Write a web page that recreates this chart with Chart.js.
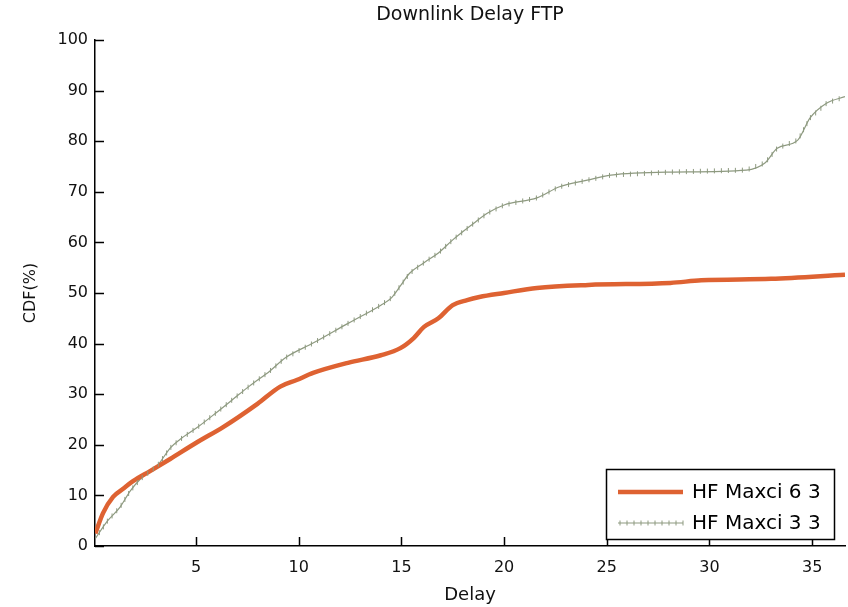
<!DOCTYPE html>
<html>
<head>
<meta charset="utf-8">
<script src="https://cdn.jsdelivr.net/npm/chart.js@4.4.1/dist/chart.umd.min.js"></script>
<style>
  html, body { margin: 0; padding: 0; background: #fff; }
  #wrap { width: 848px; height: 607px; }
</style>
</head>
<body>
<div id="wrap"><canvas id="chart" width="848" height="607"></canvas></div>
<script>
const titleText = 'Downlink Delay FTP';
const xLabel = 'Delay';
const yLabel = 'CDF(%)';
const seriesNames = ['HF Maxci 6 3', 'HF Maxci 3 3'];

// HF Maxci 6 3 (orange, thick)
const delay63 = [0.1, 0.47, 0.96, 1.45, 1.93, 2.76, 3.74, 5.05, 6.32, 7.99, 9.1, 9.9, 10.7, 12.4, 14.0, 14.95, 15.6, 16.1, 16.8, 17.5, 18.2, 18.8, 20.0, 21.6, 24.1, 28.1, 29.6, 33.0, 36.6];
const cdf63 =   [2.5, 6.5, 9.7, 11.3, 12.8, 14.8, 17.2, 20.5, 23.5, 28.1, 31.5, 32.8, 34.2, 36.2, 37.7, 39.1, 41.1, 43.3, 45.0, 47.6, 48.6, 49.2, 50.0, 51.0, 51.6, 52.0, 52.5, 52.8, 53.6];

// HF Maxci 3 3 (grey-green, thin with markers)
const delay33 = [0.1, 0.68, 1.3, 1.8, 2.28, 3.1, 3.75, 4.2, 5.05, 6.0, 6.8, 7.6, 8.6, 9.35, 10.7, 12.4, 14.0, 14.5, 14.95, 15.4, 16.1, 16.8, 17.5, 18.4, 19.2, 20.0, 21.6, 22.7, 24.05, 25.2, 28.1, 31.8, 32.7, 33.3, 34.3, 34.9, 35.7, 36.6];
const cdf33 =   [1.5, 4.9, 7.7, 10.9, 13.2, 15.8, 19.4, 21.0, 23.4, 26.4, 29.0, 31.6, 34.6, 37.2, 40.1, 44.0, 47.6, 49.0, 51.4, 53.9, 56.0, 57.9, 60.5, 63.4, 65.8, 67.4, 68.8, 71.0, 72.3, 73.3, 73.9, 74.3, 75.7, 78.6, 80.2, 84.6, 87.5, 88.8];

const xTicks = [5, 10, 15, 20, 25, 30, 35];
const yTicks = [0, 10, 20, 30, 40, 50, 60, 70, 80, 90, 100];

const orange = '#de6232';
const olive = '#8e9a80';
const fontFamily = '"DejaVu Sans", Verdana, sans-serif';

function toPoints(xs, ys) {
    return xs.map((x, i) => ({ x: x, y: ys[i] }));
}

// ticks drawn on the inside of the axes, like matlab
const inwardTicks = {
    id: 'inwardTicks',
    afterDraw(chart) {
        const ctx = chart.ctx;
        const xs = chart.scales.x;
        const ys = chart.scales.y;
        const area = chart.chartArea;
        ctx.save();
        ctx.strokeStyle = '#000';
        ctx.lineWidth = 1.5;
        ctx.beginPath();
        xs.ticks.forEach(t => {
            const px = Math.round(xs.getPixelForValue(t.value)) + 0.5;
            ctx.moveTo(px, area.bottom);
            ctx.lineTo(px, area.bottom - 9);
        });
        ys.ticks.forEach(t => {
            const py = Math.round(ys.getPixelForValue(t.value)) + 0.5;
            ctx.moveTo(area.left, py);
            ctx.lineTo(area.left + 9, py);
        });
        ctx.stroke();
        ctx.restore();
    }
};

// little "+" marks along the thin series
const lineMarkers = {
    id: 'lineMarkers',
    afterDatasetsDraw(chart) {
        const meta = chart.getDatasetMeta(1);
        const pts = meta.data;
        const ctx = chart.ctx;
        const area = chart.chartArea;
        const step = 7;
        ctx.save();
        ctx.beginPath();
        ctx.rect(area.left, area.top, area.right - area.left, area.bottom - area.top);
        ctx.clip();
        ctx.strokeStyle = olive;
        ctx.lineWidth = 1;
        ctx.beginPath();
        let carry = 0;
        for (let i = 1; i < pts.length; i++) {
            const a = pts[i - 1], b = pts[i];
            const dx = b.x - a.x, dy = b.y - a.y;
            const len = Math.sqrt(dx * dx + dy * dy);
            let d = step - carry;
            while (d <= len) {
                const px = a.x + dx * d / len;
                const py = a.y + dy * d / len;
                ctx.moveTo(px, py - 2.5);
                ctx.lineTo(px, py + 2.5);
                d += step;
            }
            carry = len - (d - step);
        }
        ctx.stroke();
        ctx.restore();
    }
};

// boxed legend in the lower right corner of the axes
const boxLegend = {
    id: 'boxLegend',
    afterDraw(chart) {
        const ctx = chart.ctx;
        const area = chart.chartArea;
        const w = 228, h = 70;
        const left = area.right - 11 - w;
        const top = area.bottom - 7 - h;
        ctx.save();
        ctx.fillStyle = '#fff';
        ctx.fillRect(left, top, w, h);
        ctx.strokeStyle = '#000';
        ctx.lineWidth = 1.5;
        ctx.strokeRect(left + 0.5, top + 0.5, w, h);

        const sets = chart.data.datasets;
        const rows = [top + 23, top + 54];
        ctx.font = '20px ' + fontFamily;
        ctx.textBaseline = 'middle';
        ctx.textAlign = 'left';
        sets.forEach((ds, i) => {
            const y = rows[i];
            ctx.strokeStyle = ds.borderColor;
            ctx.lineWidth = ds.borderWidth;
            ctx.beginPath();
            ctx.moveTo(left + 12, y);
            ctx.lineTo(left + 77, y);
            ctx.stroke();
            if (i === 1) {
                ctx.lineWidth = 1;
                ctx.beginPath();
                for (let px = left + 14; px <= left + 77; px += 7) {
                    ctx.moveTo(px, y - 2.5);
                    ctx.lineTo(px, y + 2.5);
                }
                ctx.stroke();
            }
            ctx.fillStyle = '#000';
            ctx.fillText(ds.label, left + 86, y + 1);
        });
        ctx.restore();
    }
};

const ctx = document.getElementById('chart').getContext('2d');
new Chart(ctx, {
    type: 'line',
    data: {
        datasets: [
            {
                label: seriesNames[0],
                data: toPoints(delay63, cdf63),
                borderColor: orange,
                borderWidth: 4.5,
                pointRadius: 0,
                cubicInterpolationMode: 'monotone'
            },
            {
                label: seriesNames[1],
                data: toPoints(delay33, cdf33),
                borderColor: olive,
                borderWidth: 1.2,
                pointRadius: 0,
                cubicInterpolationMode: 'monotone'
            }
        ]
    },
    options: {
        responsive: false,
        animation: false,
        layout: { padding: { left: 0, right: 3, top: 0, bottom: 0 } },
        plugins: {
            legend: { display: false },
            title: { display: false },
            tooltip: { enabled: false }
        },
        scales: {
            x: {
                type: 'linear',
                position: 'bottom',
                min: 0.08,
                max: 36.6,
                afterBuildTicks: s => { s.ticks = xTicks.map(v => ({ value: v })); },
                afterFit: s => { s.height = 61; },
                grid: { display: false, drawTicks: false },
                border: { display: true, color: '#000', width: 1.5 },
                ticks: { color: '#111', padding: 12, font: { family: fontFamily, size: 16 } },
                title: { display: true, text: xLabel, color: '#111', padding: { top: 0, bottom: 1 }, font: { family: fontFamily, size: 18 } }
            },
            top: {
                type: 'linear',
                position: 'top',
                display: true,
                afterFit: s => { s.height = 40; },
                grid: { display: false, drawTicks: false },
                border: { display: false },
                ticks: { display: false },
                title: { display: true, text: titleText, color: '#111', padding: { top: 4, bottom: 0 }, font: { family: fontFamily, size: 19 } }
            },
            y: {
                min: 0,
                max: 100,
                afterBuildTicks: s => { s.ticks = yTicks.map(v => ({ value: v })); },
                afterFit: s => { s.width = 95; },
                grid: { display: false, drawTicks: false },
                border: { display: true, color: '#000', width: 1.5 },
                ticks: { color: '#111', padding: 7, font: { family: fontFamily, size: 16 } },
                title: { display: true, text: yLabel, color: '#111', padding: { top: 21, bottom: 0 }, font: { family: fontFamily, size: 16 } }
            }
        }
    },
    plugins: [lineMarkers, inwardTicks, boxLegend]
});
</script>
</body>
</html>
